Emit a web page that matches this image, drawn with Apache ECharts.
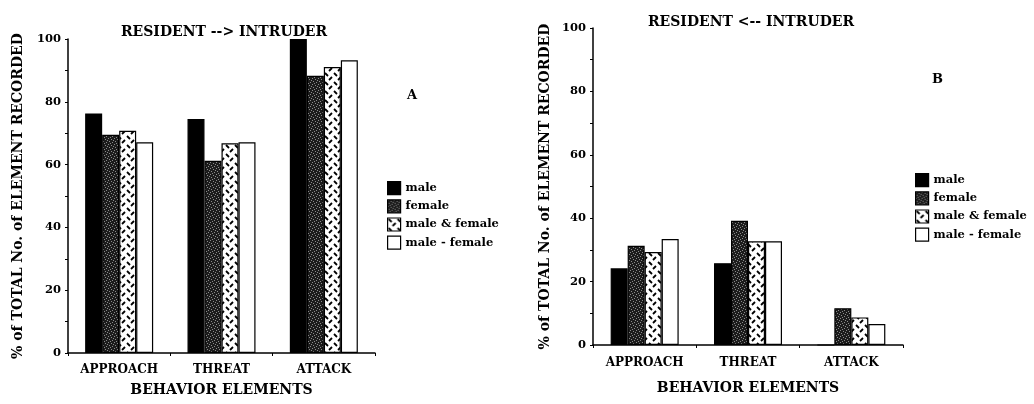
<!DOCTYPE html>
<html>
<head>
<meta charset="utf-8">
<script src="https://cdn.jsdelivr.net/npm/echarts@6/dist/echarts.min.js"></script>
<style>
html,body{margin:0;padding:0;background:#fff;}
#c{width:1034px;height:404px;}
</style>
</head>
<body>
<div id="c"></div>
<script>
// ---- data ----
const categories = ['APPROACH', 'THREAT', 'ATTACK'];
const seriesNames = ['male', 'female', 'male & female', 'male - female'];
// Panel A: RESIDENT --> INTRUDER
const aMale = [76.3, 74.5, 100];
const aFemale = [69.5, 61.2, 88.3];
const aMaleAndFemale = [70.8, 66.8, 91.1];
const aMaleMinusFemale = [67.1, 67.1, 93.2];
// Panel B: RESIDENT <-- INTRUDER
const bMale = [24.2, 25.8, 0];
const bFemale = [31.3, 39.2, 11.6];
const bMaleAndFemale = [29.3, 32.7, 8.7];
const bMaleMinusFemale = [33.4, 32.7, 6.6];
const yTicks = [0, 20, 40, 60, 80, 100];

// ---- patterns ----
function stipple() {
  const c = document.createElement('canvas');
  c.width = 6; c.height = 6;
  const g = c.getContext('2d');
  g.fillStyle = '#1c1c1c'; g.fillRect(0, 0, 6, 6);
  g.fillStyle = '#8a8a8a';
  [[0,0],[3,1],[1,3],[4,4],[5,2],[2,5]].forEach(p => g.fillRect(p[0], p[1], 1, 1));
  return c;
}
function hatch() {
  const c = document.createElement('canvas');
  c.width = 9; c.height = 9;
  const g = c.getContext('2d');
  g.fillStyle = '#fff'; g.fillRect(0, 0, 9, 9);
  g.strokeStyle = '#000'; g.lineWidth = 1.8; g.lineCap = 'butt';
  g.beginPath(); g.moveTo(1, 1); g.lineTo(4, 4); g.stroke();
  g.beginPath(); g.moveTo(5, 8); g.lineTo(8, 5); g.stroke();
  return c;
}
const fills = [
  '#000',
  { image: stipple(), repeat: 'repeat' },
  { image: hatch(), repeat: 'repeat' },
  '#fff'
];

const FONT = 'DejaVu Serif';
const txt = (size) => ({ fontFamily: FONT, fontWeight: 'bold', fontSize: size, color: '#000' });

function makeSeries(idx, arrays) {
  return arrays.map((arr, i) => ({
    name: seriesNames[i],
    type: 'bar',
    xAxisIndex: idx, yAxisIndex: idx,
    data: arr,
    barWidth: 17,
    barGap: '0%',
    itemStyle: { color: fills[i], borderColor: '#000', borderWidth: 1.2 },
    emphasis: { disabled: true },
    animation: false
  }));
}

function yAxis(gridIndex, gap) {
  return {
    type: 'value', gridIndex, min: 0, max: 100, interval: 20,
    name: '% of TOTAL No. of ELEMENT RECORDED',
    nameLocation: 'middle', nameGap: gap,
    nameTextStyle: txt(14),
    axisLine: { show: true, lineStyle: { color: '#000', width: 1.5 } },
    axisTick: { show: true, inside: false, length: 3, lineStyle: { color: '#000' } },
    minorTick: { show: true, splitNumber: 2, length: 3, lineStyle: { color: '#000' } },
    axisLabel: Object.assign(txt(11.5), { margin: 7, formatter: v => yTicks.includes(v) ? String(v) : '' }),
    splitLine: { show: false }
  };
}
function xAxis(gridIndex, labelMargin, nameGap) {
  return {
    type: 'category', gridIndex, data: categories,
    name: 'BEHAVIOR ELEMENTS', nameLocation: 'middle', nameGap: nameGap,
    nameTextStyle: txt(14),
    axisLine: { lineStyle: { color: '#000', width: 1.5 } },
    axisTick: { show: true, length: 3, lineStyle: { color: '#000' } },
    axisLabel: Object.assign(txt(12), { margin: labelMargin })
  };
}

const chart = echarts.init(document.getElementById('c'), null, { renderer: 'canvas' });
chart.setOption({
  backgroundColor: '#fff',
  animation: false,
  title: [
    { text: 'RESIDENT --> INTRUDER', left: 219, top: 20, textAlign: 'center', textStyle: txt(14) },
    { text: 'RESIDENT <-- INTRUDER', left: 746, top: 10, textAlign: 'center', textStyle: txt(14) },
    { text: 'A', left: 402, top: 84, textStyle: txt(13) },
    { text: 'B', left: 927, top: 68, textStyle: txt(13) }
  ],
  legend: [
    { data: seriesNames.map(n => ({ name: n, icon: 'rect' })), orient: 'vertical', left: 382, top: 176,
      itemWidth: 13, itemHeight: 13, itemGap: 4, textStyle: txt(11.5), selectedMode: false,
      itemStyle: { borderColor: '#000', borderWidth: 1.2 } },
    { data: seriesNames.map(n => ({ name: n, icon: 'rect' })), orient: 'vertical', left: 910, top: 168,
      itemWidth: 13, itemHeight: 13, itemGap: 4, textStyle: txt(11.5), selectedMode: false,
      itemStyle: { borderColor: '#000', borderWidth: 1.2 } }
  ],
  grid: [
    { left: 68, right: 659, top: 39, bottom: 51 },
    { left: 593, right: 131, top: 28, bottom: 59 }
  ],
  xAxis: [xAxis(0, 11, 30), xAxis(1, 12, 36)],
  yAxis: [yAxis(0, 43), yAxis(1, 41)],
  series: [
    ...makeSeries(0, [aMale, aFemale, aMaleAndFemale, aMaleMinusFemale]),
    ...makeSeries(1, [bMale, bFemale, bMaleAndFemale, bMaleMinusFemale])
  ]
});
</script>
</body>
</html>
